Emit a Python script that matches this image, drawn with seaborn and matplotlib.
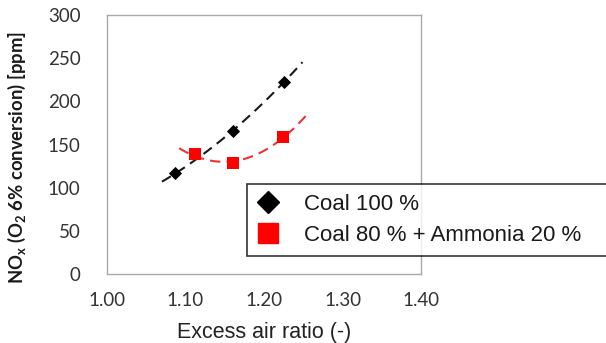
import numpy as np
import pandas as pd
import matplotlib
matplotlib.use("Agg")
import matplotlib.pyplot as plt
from matplotlib.lines import Line2D
import seaborn as sns

# ---- data ----
coal_x = [1.086, 1.160, 1.226]
coal_y = [117, 166, 222]
mix_x = [1.112, 1.160, 1.224]
mix_y = [139, 128, 159]
# points read along the dashed trendlines
coal_trend_x = [1.070, 1.086, 1.160, 1.226, 1.249]
coal_trend_y = [106, 117, 166, 222, 246]
mix_trend_x = [1.092, 1.131, 1.160, 1.191, 1.224, 1.255]
mix_trend_y = [146, 132, 128, 140, 159, 184]
series_labels = ["Coal 100 %", "Coal 80 % + Ammonia 20 %"]
x_ticks = [1.00, 1.10, 1.20, 1.30, 1.40]
x_tick_labels = ["1.00", "1.10", "1.20", "1.30", "1.40"]
y_ticks = [0, 50, 100, 150, 200, 250, 300]

sns.set_style("white")
plt.rcParams["font.family"] = ["Lato", "DejaVu Sans"]
plt.rcParams["mathtext.fontset"] = "custom"
plt.rcParams["mathtext.bf"] = "Lato:bold"
plt.rcParams["mathtext.rm"] = "Lato"

fig = plt.figure(figsize=(6.06, 3.43), dpi=100)
ax = fig.add_axes([107/606, 1-274/343, (421-107)/606, (274-15)/343])

coal = pd.DataFrame({"x": coal_x, "y": coal_y})
mix = pd.DataFrame({"x": mix_x, "y": mix_y})
coal_t = pd.DataFrame({"x": coal_trend_x, "y": coal_trend_y})
mix_t = pd.DataFrame({"x": mix_trend_x, "y": mix_trend_y})

dash = (5.0, 3.0)
sns.regplot(data=coal_t, x="x", y="y", order=2, ci=None, scatter=False, truncate=True,
            ax=ax, line_kws=dict(color="#1a1a1a", lw=1.5, dashes=dash))
sns.regplot(data=mix_t, x="x", y="y", order=2, ci=None, scatter=False, truncate=True,
            ax=ax, line_kws=dict(color="#ee3333", lw=1.5, dashes=dash))

sns.scatterplot(data=coal, x="x", y="y", marker="D", s=45, color="black",
                edgecolor="black", linewidth=0, ax=ax, zorder=5)
sns.scatterplot(data=mix, x="x", y="y", marker="s", s=80, color="#ff0000",
                edgecolor="#ff0000", linewidth=0, ax=ax, zorder=5)

ax.set_xlim(1.0, 1.4)
ax.set_ylim(0, 300)
ax.set_xticks(x_ticks)
ax.set_xticklabels(x_tick_labels)
ax.set_yticks(y_ticks)
ax.tick_params(axis="both", direction="in", length=4, width=0.9, color="#999999",
               labelsize=13.5, labelcolor="#333333")
ax.tick_params(axis="y", pad=19)
ax.tick_params(axis="x", pad=13)
for sp in ax.spines.values():
    sp.set_color("#aaaaaa")
    sp.set_linewidth(1.0)

ax.set_xlabel("Excess air ratio (-)", fontsize=15.5, family=["Liberation Sans"],
              color="#222222", labelpad=9)
ax.set_ylabel(r"NO$_\mathbf{x}$ (O$_\mathbf{2}$ 6% conversion) [ppm]", fontsize=13.3,
              fontweight="bold", color="#1a1a1a")
ax.yaxis.set_label_coords(-0.25, 0.45)

handles = [
    Line2D([], [], marker="D", ls="none", color="black", markersize=11),
    Line2D([], [], marker="s", ls="none", color="#ff0000", markersize=14),
]
leg = fig.legend(handles, series_labels, loc="upper left",
                 bbox_to_anchor=(247/606, 1-184/343, 0.62, 0.0),
                 bbox_transform=fig.transFigure, mode="expand",
                 prop={"family": "Liberation Sans", "size": 16},
                 frameon=True, fancybox=False, handlelength=1.0,
                 handletextpad=1.1, borderpad=0.45, labelspacing=0.45,
                 borderaxespad=0)
leg.get_frame().set_edgecolor("black")
leg.get_frame().set_linewidth(1.2)
for t in leg.get_texts():
    t.set_color("#1a1a1a")

fig.savefig("out.png", dpi=100)
